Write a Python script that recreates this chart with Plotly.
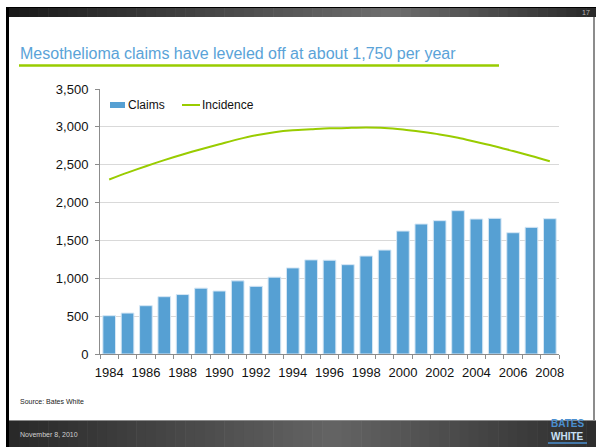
import plotly.graph_objects as go

years = list(range(1984, 2009))
claims = [506, 541, 638, 757, 785, 870, 832, 966, 894, 1015, 1137, 1243, 1239,
          1180, 1294, 1373, 1624, 1717, 1761, 1893, 1783, 1792, 1602, 1673, 1787]
incidence = [2305, 2395, 2480, 2560, 2635, 2705, 2770, 2835, 2890, 2930, 2955,
             2968, 2980, 2986, 2990, 2985, 2965, 2935, 2900, 2855, 2800, 2745,
             2680, 2615, 2545]
x_ticks = list(range(1984, 2009, 2))
y_ticks = list(range(0, 3501, 500))

title_text = "Mesothelioma claims have leveled off at about 1,750 per year"
source_text = "Source: Bates White"
date_text = "November 8, 2010"
page_text = "17"

W, H = 596, 447
PL, PR, PT, PB = 100, 559, 89, 354
BAR_COLOR = "#56A0D3"
LINE_COLOR = "#99CC00"


def px(x):
    return (x - PL) / (PR - PL)


def py(y):
    return (PB - y) / (PB - PT)


FONT = "Liberation Sans, Arial, sans-serif"

fig = go.Figure()
fig.add_trace(go.Bar(
    x=years, y=claims, name="Claims", showlegend=False,
    marker=dict(color=BAR_COLOR, line=dict(color="#D6E7F5", width=1)),
))
fig.add_trace(go.Scatter(
    x=years, y=incidence, name="Incidence", mode="lines", showlegend=False,
    line=dict(color=LINE_COLOR, width=2, shape="spline", smoothing=0.8),
))

shapes = []


def rect(x0, y0, x1, y1, color):
    shapes.append(dict(type="rect", xref="paper", yref="paper",
                       x0=px(x0), x1=px(x1), y0=py(y1), y1=py(y0),
                       fillcolor=color, line=dict(width=0), layer="below"))


def lerp(c1, c2, t):
    return tuple(int(round(a + (b - a) * t)) for a, b in zip(c1, c2))


def gradient_bar(y0, y1, stops, n=60, x0=9, x1=596):
    w = (x1 - x0) / n
    for i in range(n):
        t = (i + 0.5) / n
        for j in range(len(stops) - 1):
            if stops[j][0] <= t <= stops[j + 1][0]:
                tt = (t - stops[j][0]) / (stops[j + 1][0] - stops[j][0])
                c = lerp(stops[j][1], stops[j + 1][1], tt)
                break
        rect(x0 + i * w, y0, x0 + (i + 1) * w + 0.6, y1, "rgb(%d,%d,%d)" % c)


# top dark bar
rect(6, 7, 596, 8, "#000000")
gradient_bar(8, 17, [(0, (25, 25, 25)), (0.65, (110, 110, 110)), (1, (40, 40, 40))])
# footer
gradient_bar(421, 447, [(0, (40, 40, 40)), (0.55, (100, 100, 100)), (1, (45, 45, 45))])
rect(9, 420, 596, 421, "#8a8a8a")
# left black border
rect(6, 7, 9, 447, "#000000")
# right grey border
rect(593, 17, 595, 421, "#8c8c8c")
# title underline
shapes.append(dict(type="line", xref="paper", yref="paper",
                   x0=px(19), x1=px(499), y0=py(65.5), y1=py(65.5),
                   line=dict(color=LINE_COLOR, width=2.5)))

# manual legend
shapes.append(dict(type="rect", xref="paper", yref="paper",
                   x0=px(110), x1=px(125), y0=py(108), y1=py(102),
                   fillcolor=BAR_COLOR, line=dict(width=0)))
shapes.append(dict(type="line", xref="paper", yref="paper",
                   x0=px(182), x1=px(200), y0=py(105), y1=py(105),
                   line=dict(color=LINE_COLOR, width=2)))

annotations = [
    dict(text=title_text, x=px(18), y=py(64), xanchor="left", yanchor="bottom",
         xref="paper", yref="paper", showarrow=False,
         font=dict(family=FONT, size=16, color="#5AA3D8")),
    dict(text="Claims", x=px(126), y=py(105), xanchor="left", yanchor="middle",
         xref="paper", yref="paper", showarrow=False,
         font=dict(family=FONT, size=12, color="#111111")),
    dict(text="Incidence", x=px(200), y=py(105), xanchor="left", yanchor="middle",
         xref="paper", yref="paper", showarrow=False,
         font=dict(family=FONT, size=12, color="#111111")),
    dict(text=source_text, x=px(18), y=py(401), xanchor="left", yanchor="middle",
         xref="paper", yref="paper", showarrow=False,
         font=dict(family=FONT, size=7, color="#222222")),
    dict(text=date_text, x=px(18), y=py(434), xanchor="left", yanchor="middle",
         xref="paper", yref="paper", showarrow=False,
         font=dict(family=FONT, size=7, color="#d0d0d0")),
    dict(text=page_text, x=px(592), y=py(12.5), xanchor="right", yanchor="middle",
         xref="paper", yref="paper", showarrow=False,
         font=dict(family=FONT, size=7, color="#bbbbbb")),
    dict(text="<b>BATES</b>", x=px(567), y=py(423.5), xanchor="center", yanchor="middle",
         xref="paper", yref="paper", showarrow=False,
         font=dict(family=FONT, size=10, color="#4A8FD0")),
    dict(text="<b>WHITE</b>", x=px(567), y=py(436.5), xanchor="center", yanchor="middle",
         xref="paper", yref="paper", showarrow=False,
         font=dict(family=FONT, size=10, color="#C9E0F5")),
]
shapes.append(dict(type="line", xref="paper", yref="paper",
                   x0=px(548), x1=px(587), y0=py(443), y1=py(443),
                   line=dict(color="#4A8FD0", width=1.5)))

fig.update_layout(
    width=W, height=H,
    margin=dict(l=PL, r=W - PR, t=PT, b=H - PB),
    paper_bgcolor="white", plot_bgcolor="white",
    font=dict(family=FONT, color="#111111"),
    bargap=0.31,
    showlegend=False,
    shapes=shapes,
    annotations=annotations,
    xaxis=dict(range=[1983.5, 2008.5], tickmode="array", tickvals=x_ticks,
               ticktext=[str(v) for v in x_ticks], ticks="", showgrid=False,
               showline=True, linecolor="#8c8c8c", linewidth=1,
               tickfont=dict(size=13, color="#111111"), ticklabelstandoff=6,
               minor=dict(tickmode="linear", tick0=1983.5, dtick=1, ticks="outside",
                          ticklen=4, tickcolor="#8c8c8c", showgrid=False),
               zeroline=False, fixedrange=True),
    yaxis=dict(range=[0, 3500], tickmode="array", tickvals=y_ticks,
               ticktext=[f"{v:,}" for v in y_ticks], ticks="outside", ticklen=4,
               tickcolor="#8c8c8c", showgrid=True, gridcolor="#d9d9d9", gridwidth=1,
               showline=True, linecolor="#8c8c8c", linewidth=1, zeroline=False,
               ticklabelstandoff=4,
               tickfont=dict(size=13, color="#111111"), fixedrange=True),
)

fig.write_html("out.html")
